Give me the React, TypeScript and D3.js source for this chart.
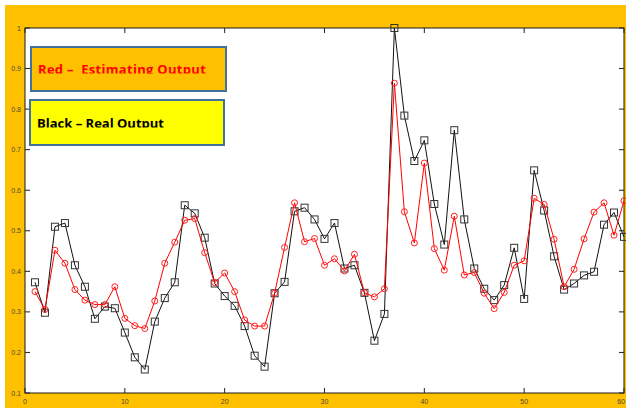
import * as d3 from "d3";

// x positions 1..60 (sample index)
const samples = d3.range(1, 61);

// Black - real output
const realOutput = [
  0.373, 0.298, 0.51, 0.519, 0.415, 0.362, 0.283, 0.313, 0.309, 0.249,
  0.188, 0.158, 0.276, 0.334, 0.373, 0.563, 0.543, 0.483, 0.37, 0.339,
  0.315, 0.265, 0.192, 0.165, 0.346, 0.374, 0.548, 0.557, 0.528, 0.48,
  0.519, 0.407, 0.415, 0.347, 0.229, 0.295, 1.0, 0.784, 0.672, 0.723,
  0.566, 0.466, 0.748, 0.528, 0.407, 0.357, 0.329, 0.366, 0.458, 0.332,
  0.649, 0.55, 0.437, 0.355, 0.37, 0.39, 0.399, 0.515, 0.545, 0.485,
];

// Red - estimating output
const estOutput = [
  0.35, 0.306, 0.452, 0.42, 0.355, 0.329, 0.318, 0.318, 0.362, 0.284,
  0.266, 0.259, 0.327, 0.42, 0.472, 0.526, 0.53, 0.446, 0.372, 0.396,
  0.35, 0.28, 0.265, 0.265, 0.346, 0.459, 0.569, 0.473, 0.481, 0.415,
  0.431, 0.401, 0.442, 0.347, 0.337, 0.357, 0.864, 0.547, 0.47, 0.667,
  0.456, 0.403, 0.536, 0.391, 0.397, 0.346, 0.308, 0.348, 0.415, 0.426,
  0.58, 0.565, 0.479, 0.362, 0.405, 0.48, 0.546, 0.569, 0.489, 0.574,
];

const xTicks = [0, 10, 20, 30, 40, 50, 60];
const yTicks = [0.1, 0.2, 0.3, 0.4, 0.5, 0.6, 0.7, 0.8, 0.9, 1];

export default function App() {
  const width = 626;
  const height = 408;
  const plot = { left: 25, right: 624, top: 28, bottom: 393 };

  const x = d3.scaleLinear().domain([0, 60]).range([plot.left, plot.right]);
  const y = d3.scaleLinear().domain([0.1, 1]).range([plot.bottom, plot.top]);

  const line = d3
    .line<number>()
    .x((_, i) => x(samples[i]))
    .y((d) => y(d));

  const tickFont = "Liberation Sans, Arial, sans-serif";
  const tickColor = "#4a4a3a";

  return (
    <svg
      width={width}
      height={height}
      style={{ position: "absolute", left: 0, top: 0, background: "#fff" }}
    >
      <defs>
        <clipPath id="clipRed">
          <rect x={31} y={47} width={195} height={26.5} />
        </clipPath>
        <clipPath id="clipBlack">
          <rect x={30} y={100} width={194} height={27.5} />
        </clipPath>
      </defs>

      {/* orange background */}
      <rect x={5} y={5} width={width - 5} height={height - 5} fill="#FFC000" />

      {/* plot area */}
      <rect
        x={plot.left}
        y={plot.top}
        width={plot.right - plot.left}
        height={plot.bottom - plot.top}
        fill="#fff"
        stroke="#1a1a1a"
        strokeWidth={1}
      />

      {/* x ticks */}
      {xTicks.map((t) => (
        <g key={"x" + t}>
          <line x1={x(t)} x2={x(t)} y1={plot.bottom} y2={plot.bottom - 5} stroke="#222" />
          <line x1={x(t)} x2={x(t)} y1={plot.top} y2={plot.top + 5} stroke="#222" />
          <text
            x={t === 60 ? width - 1 : x(t)}
            y={plot.bottom + 11}
            textAnchor={t === 60 ? "end" : "middle"}
            fontSize={7}
            fill={tickColor}
            fontFamily={tickFont}
          >
            {t}
          </text>
        </g>
      ))}

      {/* y ticks */}
      {yTicks.map((t) => (
        <g key={"y" + t}>
          <line x1={plot.left} x2={plot.left + 5} y1={y(t)} y2={y(t)} stroke="#222" />
          <line x1={plot.right} x2={plot.right - 5} y1={y(t)} y2={y(t)} stroke="#222" />
          <text
            x={plot.left - 4}
            y={y(t) + 2.5}
            textAnchor="end"
            fontSize={7}
            fill={tickColor}
            fontFamily={tickFont}
          >
            {t === 1 ? "1" : d3.format(".1f")(t)}
          </text>
        </g>
      ))}

      {/* real output (black squares) */}
      <path d={line(realOutput) || ""} fill="none" stroke="#111" strokeWidth={1} />
      {realOutput.map((v, i) => (
        <rect
          key={"r" + i}
          x={x(samples[i]) - 3.5}
          y={y(v) - 3.5}
          width={7}
          height={7}
          fill="none"
          stroke="#333"
          strokeWidth={1}
        />
      ))}

      {/* estimating output (red circles) */}
      <path d={line(estOutput) || ""} fill="none" stroke="#ff0000" strokeWidth={1} />
      {estOutput.map((v, i) => (
        <circle
          key={"e" + i}
          cx={x(samples[i])}
          cy={y(v)}
          r={3}
          fill="none"
          stroke="#ff2020"
          strokeWidth={1}
        />
      ))}

      {/* legend boxes */}
      <rect x={31} y={47} width={195} height={44} fill="#FFC000" stroke="#41719C" strokeWidth={2} />
      <text
        x={38}
        y={74}
        fontSize={13}
        fontWeight="bold"
        fill="#ff0000"
        fontFamily="Open Sans, Liberation Sans, sans-serif"
        letterSpacing={0.3}
        style={{ whiteSpace: "pre" }}
        clipPath="url(#clipRed)"
      >
        {"Red –  Estimating Output"}
      </text>

      <rect x={30} y={100} width={194} height={45} fill="#FFFF00" stroke="#41719C" strokeWidth={2} />
      <text
        x={37}
        y={128}
        fontSize={13}
        fontWeight="bold"
        fill="#000"
        fontFamily="Open Sans, Liberation Sans, sans-serif"
        clipPath="url(#clipBlack)"
      >
        Black – Real Output
      </text>
    </svg>
  );
}
